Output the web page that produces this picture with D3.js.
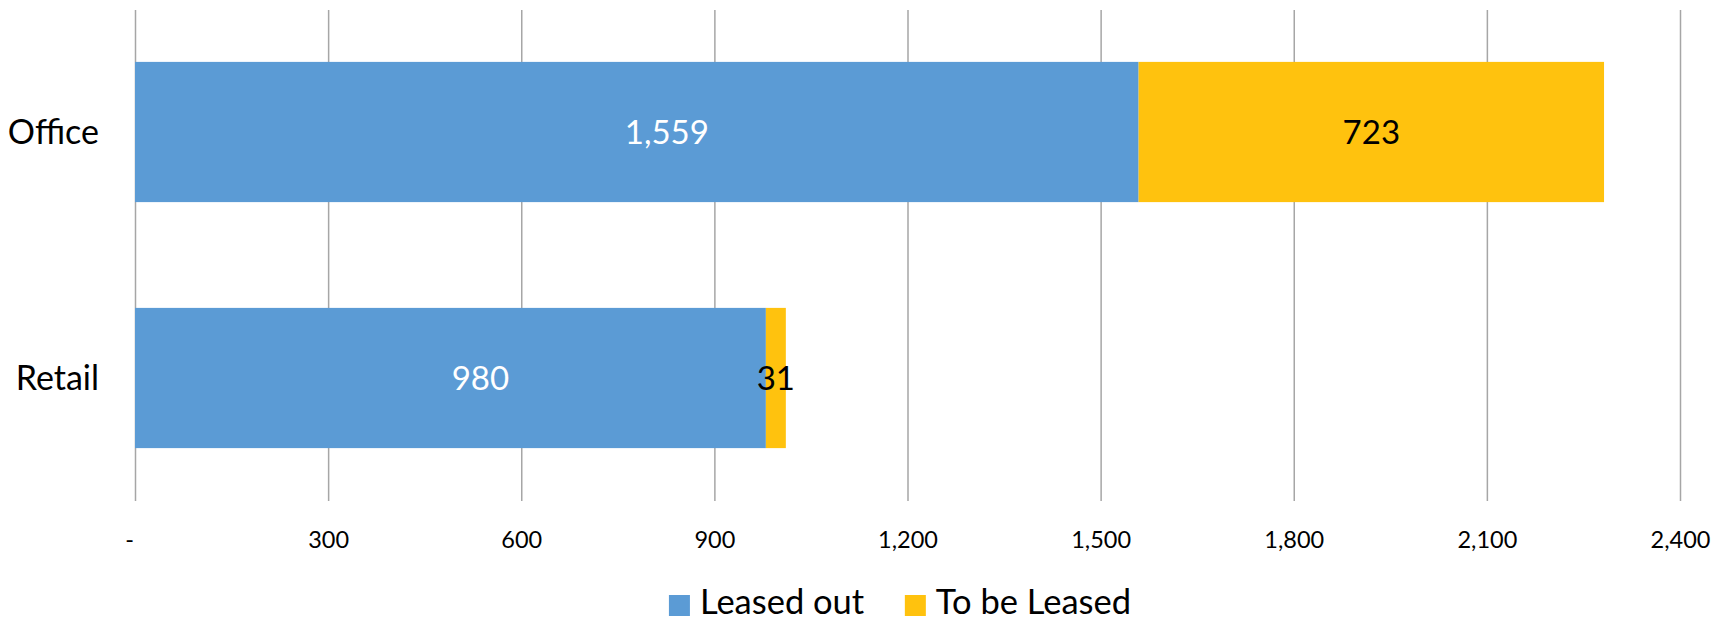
<!DOCTYPE html>
<html>
<head>
<meta charset="utf-8">
<script src="https://cdn.jsdelivr.net/npm/d3@7"></script>
<style>
  body { margin: 0; background: #fff; }
  svg { display: block; font-family: Lato, "Open Sans", sans-serif; }
</style>
</head>
<body>
<div id="chart"></div>
<script>
const categories = ["Office", "Retail"]
const seriesNames = ["Leased out", "To be Leased"]
const leasedOut = [1559, 980]
const toBeLeased = [723, 31]
const xTicks = [0, 300, 600, 900, 1200, 1500, 1800, 2100, 2400]

const colors = ["#5B9BD5", "#FFC20E"]
const labelColors = ["#ffffff", "#000000"]

const width = 1725
const height = 622
const margin = { top: 9, right: 45, bottom: 121, left: 135 }

const rows = categories.map((c, i) => ({ category: c, "Leased out": leasedOut[i], "To be Leased": toBeLeased[i] }))
const stacked = d3.stack().keys(seriesNames)(rows)

const svg = d3.select("#chart")
  .append("svg")
  .attr("width", width)
  .attr("height", height)

const x = d3.scaleLinear()
  .domain([0, 2400])
  .range([margin.left, width - margin.right])

const y = d3.scaleBand()
  .domain(categories)
  .range([margin.top, height - margin.bottom])
  .paddingInner(0.43)
  .paddingOuter(0.215)

// Gridlines
const grid = svg.append("g")
  .attr("transform", `translate(0,${height - margin.bottom})`)
  .call(d3.axisBottom(x).tickValues(xTicks).tickSize(-(height - margin.bottom - margin.top) + 1).tickFormat(""))
grid.select(".domain").remove()
grid.selectAll(".tick line")
  .attr("stroke", "#a6a6a6")
  .attr("stroke-width", 1.5)

// Bars
const layers = svg.append("g")
  .selectAll("g")
  .data(stacked)
  .join("g")
  .attr("fill", (d, i) => colors[i])

layers.selectAll("rect")
  .data(d => d)
  .join("rect")
  .attr("x", d => x(d[0]))
  .attr("y", d => y(d.data.category))
  .attr("width", d => x(d[1]) - x(d[0]))
  .attr("height", y.bandwidth())

// Data labels
const fmt = d3.format(",")
stacked.forEach((layer, si) => {
  svg.append("g")
    .selectAll("text")
    .data(layer)
    .join("text")
    .attr("x", d => (x(d[0]) + x(d[1])) / 2 + (si === 0 ? 30 : 0))
    .attr("y", d => y(d.data.category) + y.bandwidth() / 2)
    .attr("dy", "0.36em")
    .attr("text-anchor", "middle")
    .attr("font-size", 33)
    .attr("fill", labelColors[si])
    .text(d => fmt(d[1] - d[0]))
})

// X axis labels
const xAxis = svg.append("g")
  .attr("transform", `translate(0,${height - margin.bottom})`)
  .call(d3.axisBottom(x).tickValues(xTicks).tickSize(0).tickPadding(30)
    .tickFormat(d => d === 0 ? "-" : fmt(d)))
xAxis.select(".domain").remove()
xAxis.selectAll("text")
  .attr("font-size", 23.5)
  .attr("font-family", "Lato, sans-serif")
  .attr("fill", "#000")
  .attr("dx", d => d === 0 ? -6 : 0)

// Category labels
svg.append("g")
  .selectAll("text")
  .data(categories)
  .join("text")
  .attr("x", 99)
  .attr("y", d => y(d) + y.bandwidth() / 2)
  .attr("dy", "0.36em")
  .attr("text-anchor", "end")
  .attr("font-size", 34)
  .attr("fill", "#000")
  .text(d => d)

// Legend
const legend = svg.append("g").attr("transform", `translate(0,602)`)
const items = legend.selectAll("g")
  .data(seriesNames)
  .join("g")
items.append("rect")
  .attr("width", 21)
  .attr("height", 21)
  .attr("y", -7)
  .attr("fill", (d, i) => colors[i])
items.append("text")
  .attr("x", 31)
  .attr("dy", "0.36em")
  .attr("font-size", 34.5)
  .attr("fill", "#000")
  .text(d => d)

let lx = 0
const offsets = []
items.each(function () {
  offsets.push(lx)
  lx += this.getBBox().width + 40
})
const legendWidth = lx - 40
const legendStart = 900 - legendWidth / 2
items.attr("transform", (d, i) => `translate(${legendStart + offsets[i]},0)`)
</script>
</body>
</html>
